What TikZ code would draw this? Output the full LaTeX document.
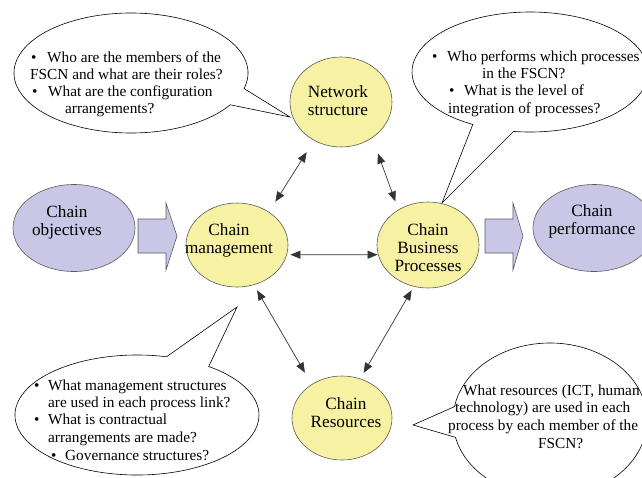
\documentclass[tikz,border=0pt]{standalone}
\usepackage{fontspec}
\setmainfont{Liberation Serif}
\usetikzlibrary{arrows.meta,shapes.geometric}
\definecolor{ylw}{RGB}{246,241,163}
\definecolor{lav}{RGB}{201,199,229}
\definecolor{edgegray}{RGB}{90,90,90}
\newcommand\bulx[1][16pt]{\makebox[#1][l]{•}}
\tikzset{
 yell/.style={ellipse, draw=edgegray, fill=ylw, line width=0.6pt, inner sep=0pt},
 purp/.style={ellipse, draw=edgegray, fill=lav, line width=0.6pt, inner sep=0pt},
 lbl/.style={align=center, font=\fontsize{17.2}{18}\selectfont, inner sep=0pt},
 btxt/.style={anchor=base west, font=\fontsize{15.3}{17.5}\selectfont, inner sep=0pt},
 bubble/.style={draw=black, fill=white, line width=0.6pt, line join=miter},
 dar/.style={{Triangle[length=10pt,width=8pt]}-{Triangle[length=10pt,width=8pt]}, draw=black!80, line width=0.7pt},
 blockarrow/.style={draw=edgegray, fill=lav, line width=0.6pt, line join=miter},
}
\begin{document}
\begin{tikzpicture}[x=1pt,y=-1pt]
\useasboundingbox (0,0) rectangle (642,477);
\clip (0,0) rectangle (642,477);
% speech bubbles
\draw[bubble] (131,73) ++(15:117 and 60) arc[start angle=15, end angle=-328, x radius=117, y radius=60] -- (290,117) -- cycle;
\draw[bubble] (530,72) ++(-262:118 and 60) arc[start angle=-262, end angle=-601, x radius=118, y radius=60] -- (442,203) -- cycle;
\draw[bubble] (137,415) ++(-76:122 and 60) arc[start angle=-76, end angle=-414, x radius=122, y radius=60] -- (237,307) -- cycle;
\draw[bubble] (550,420) ++(-193:97 and 77) arc[start angle=-193, end angle=-530, x radius=97, y radius=77] -- (413,425) -- cycle;
% bubble texts
\node[btxt] (q1a) at (31,62) {\bulx[16pt]Who are the members of the};
\node[btxt] (q1b) at (30,79) {FSCN and what are their roles?};
\node[btxt] (q1c) at (32,96) {\bulx[16pt]What are the configuration};
\node[btxt] (q1d) at (65,113) {arrangements?};
\node[btxt] (q2a) at (432,61) {\bulx[15pt]Who performs which processes};
\node[btxt] (q2b) at (482,78) {in the FSCN?};
\node[btxt] (q2c) at (449,95) {\bulx[15pt]What is the level of};
\node[btxt] (q2d) at (448,113) {integration of processes?};
\node[btxt] (q3a) at (34,390) {\bulx[14pt]What management structures};
\node[btxt] (q3b) at (48,407) {are used in each process link?};
\node[btxt] (q3c) at (34,424) {\bulx[14pt]What is contractual};
\node[btxt] (q3d) at (48,442) {arrangements are made?};
\node[btxt] (q3e) at (51,460) {\bulx[14pt]Governance structures?};
\node[btxt] (q4a) at (463,395) {What resources (ICT, human};
\node[btxt] (q4b) at (455,412) {technology) are used in each};
\node[btxt] (q4c) at (448,430) {process by each member of the};
\node[btxt] (q4d) at (538,448) {FSCN?};
% block arrows
\draw[blockarrow] (138,219) -- (166,219) -- (166,203) -- (177,236) -- (166,270) -- (166,253) -- (138,253) -- cycle;
\draw[blockarrow] (485,219) -- (513,219) -- (513,203) -- (523,236) -- (513,270) -- (513,253) -- (485,253) -- cycle;
% ellipses
\node[purp, minimum width=122pt, minimum height=87pt] (obj) at (74,228) {};
\node[purp, minimum width=122pt, minimum height=87pt] (perf) at (594,228) {};
\node[yell, minimum width=102pt, minimum height=84pt] (mgmt) at (237,245) {};
\node[yell, minimum width=102pt, minimum height=90pt] (net) at (341,102) {};
\node[yell, minimum width=102pt, minimum height=86pt] (cbp) at (428,245) {};
\node[yell, minimum width=100pt, minimum height=84pt] (res) at (342,418) {};
% labels
\node[lbl] (objt) at (67,222) {Chain\\objectives};
\node[lbl] (perft) at (592,221) {Chain\\performance};
\node[lbl] (mgmtt) at (229,240) {Chain\\management};
\node[lbl] (nett) at (338,101) {Network\\structure};
\node[lbl] (cbpt) at (428,248) {Chain\\Business\\Processes};
\node[lbl] (rest) at (346,413) {Chain\\Resources};
% connectors
\draw[dar, shorten <=12pt, shorten >=13.8pt] (mgmt.46) -- (net.235.4);
\draw[dar, shorten <=16.6pt, shorten >=8.8pt] (net.311.8) -- (cbp.130.9);
\draw[dar, shorten <=3.5pt, shorten >=0.5pt] (mgmt.-11.4) -- (cbp.191.4);
\draw[dar, shorten <=6.2pt, shorten >=13.4pt] (mgmt.293.1) -- (res.132.2);
\draw[dar, shorten <=4.2pt, shorten >=6.6pt] (cbp.251.5) -- (res.65.8);
\end{tikzpicture}
\end{document}
